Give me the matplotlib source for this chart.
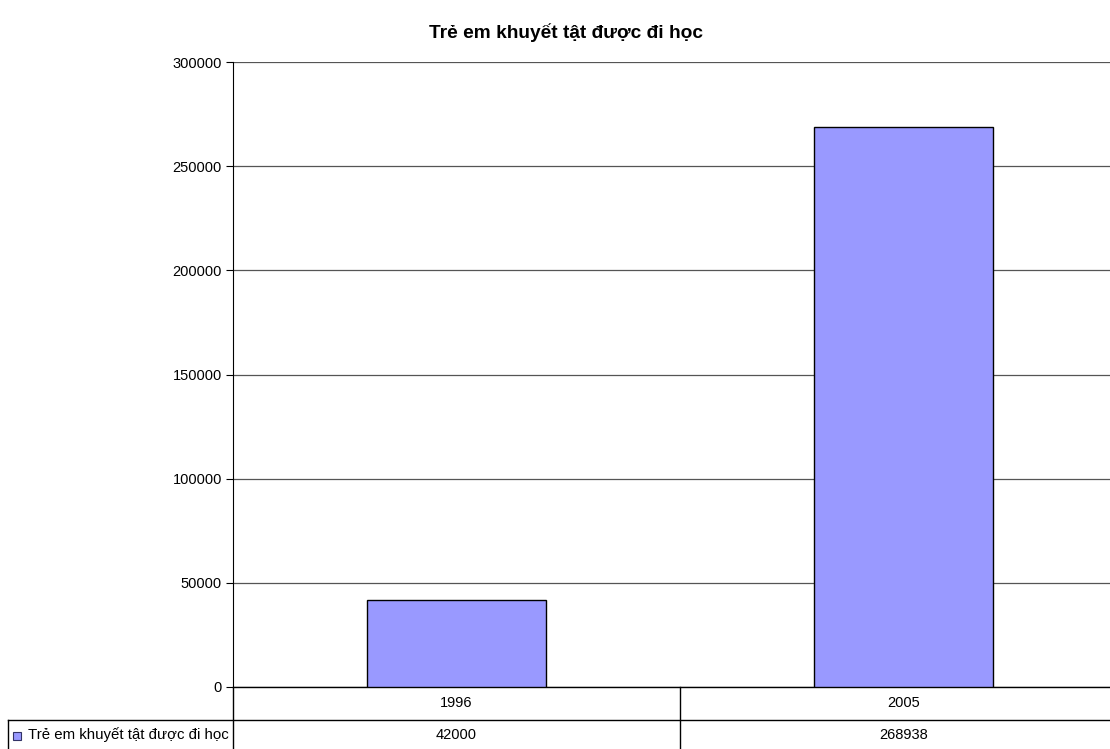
import matplotlib.pyplot as plt
from matplotlib.lines import Line2D
from matplotlib.patches import Rectangle

# chart data
title = "Trẻ em khuyết tật được đi học"
series_name = "Trẻ em khuyết tật được đi học"
years = ["1996", "2005"]
values = [42000, 268938]
y_ticks = [0, 50000, 100000, 150000, 200000, 250000, 300000]

bar_color = "#9999FF"
grid_color = "#555555"
W, H = 1110, 749

plt.rcParams['font.family'] = ['Liberation Sans', 'DejaVu Sans']

fig = plt.figure(figsize=(W / 100, H / 100), dpi=100)

# plot area in pixels: left 233, top 62, bottom 687, runs past right edge
left, top, bottom, right = 233, 62, 687, 1127
ax = fig.add_axes([left / W, 1 - bottom / H, (right - left) / W, (bottom - top) / H])

x = list(range(len(years)))
ax.bar(x, values, width=0.4, color=bar_color, edgecolor="black", linewidth=1.0, zorder=3)

ax.set_xlim(-0.5, len(years) - 0.5)
ax.set_ylim(0, 300000)
ax.set_yticks(y_ticks)
ax.set_yticklabels([str(t) for t in y_ticks], fontsize=10.5)
ax.set_xticks([])
ax.yaxis.grid(True, color=grid_color, linewidth=0.9, zorder=0)
ax.tick_params(axis='y', length=5, width=0.8, color="black", pad=3)
for s in ["top", "right"]:
    ax.spines[s].set_visible(False)
ax.spines["left"].set_linewidth(0.8)
ax.spines["bottom"].set_linewidth(1.0)

fig.text(566 / W, 1 - 33 / H, title, ha="center", va="center",
         fontsize=13.8, fontweight="bold")


# data table below the plot, drawn in figure pixels
def fx(px):
    return px / W


def fy(py):
    return 1 - py / H


def hline(x0, x1, y, lw=1.0):
    fig.add_artist(Line2D([fx(x0), fx(x1)], [fy(y), fy(y)], color="black", linewidth=lw))


def vline(x0, y0, y1, lw=1.0):
    fig.add_artist(Line2D([fx(x0), fx(x0)], [fy(y0), fy(y1)], color="black", linewidth=lw))


row1_mid, row2_top, row2_mid = 703, 720, 735
hline(8, W, row2_top)
vline(8, row2_top, H)
vline(left, bottom, H)
cat_w = (right - left) / len(years)
for i in range(1, len(years)):
    vline(left + i * cat_w, bottom, H)

for i, (yr, v) in enumerate(zip(years, values)):
    cx = left + (i + 0.5) * cat_w
    fig.text(fx(cx), fy(row1_mid), yr, ha="center", va="center", fontsize=10.5)
    fig.text(fx(cx), fy(row2_mid), str(v), ha="center", va="center", fontsize=10.5)

fig.add_artist(Rectangle((fx(13), fy(740)), 8 / W, 8 / H, facecolor=bar_color,
                         edgecolor="#333366", linewidth=0.8))
fig.text(fx(28), fy(row2_mid), series_name, ha="left", va="center", fontsize=10.8)

fig.savefig("out.png", dpi=100)
